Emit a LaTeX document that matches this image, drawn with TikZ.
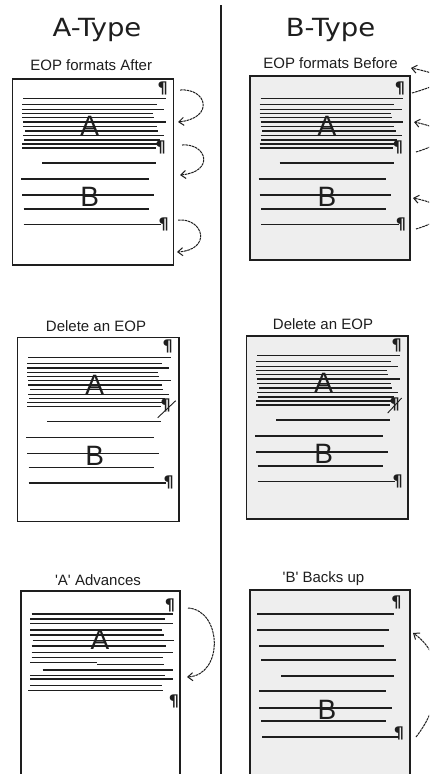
\documentclass[tikz,border=0pt]{standalone}
\usepackage{fontspec}
\usepackage{graphicx}
\setmainfont{Liberation Sans}
\newfontfamily\titlefam{DejaVu Sans}
\usetikzlibrary{arrows.meta}
\definecolor{pagegray}{RGB}{238,238,238}
\definecolor{ink}{RGB}{30,30,30}
\tikzset{
  pagebox/.style={draw=ink, line width=1.3pt},
  bpagebox/.style={pagebox, fill=pagegray},
  tline/.style={line width=1.5pt, draw=ink},
  pil/.style={font=\titlefam\bfseries\fontsize{16}{18}\selectfont, inner sep=0pt, text=ink},
  bigl/.style={font=\fontsize{28}{32}\selectfont, inner sep=0pt, text=ink},
  capt/.style={font=\fontsize{15}{18}\selectfont, anchor=base, inner sep=0pt, text=ink},
  ttl/.style={font=\titlefam\fontsize{25}{28}\selectfont, anchor=base, inner sep=0pt, text=ink},
  strike/.style={line width=0.9pt, draw=ink},
  jump/.style={line width=1pt, draw=ink, dash pattern=on 2.6pt off 0.7pt,
    -{Straight Barb[length=5pt,width=8pt,line width=1pt]}},
  divider/.style={line width=1.6pt, draw=ink},
}
% paragraph A + B contents of a page, relative to the page's top-left corner
\newcommand\paraAB[2]{%
  \foreach \yy/\xa/\xb in {19.7/10.6/153, 25.7/9.6/144, 30.3/9.6/151.6, 34.7/9.6/140.6,
      38.7/9.6/141.6, 43/10.6/153, 47.3/10.6/144, 52/12.3/145.6, 56.7/10.6/151.6,
      61/11.3/147.3, 65/9.6/144, 69/9.6/143.3}
    \draw[tline] (\xa,\yy) -- (\xb,\yy);
  \foreach \yy/\xa/\xb in {84/29.5/143.5, 100/8.5/136, 116/9.5/141, 130/11/136, 145.5/11/148.5}
    \draw[tline] (\xa,\yy) -- (\xb,\yy);
  \node[pil] (#1p1) at (150,9) {¶};
  \node[pil] (#1p2) at (148,68) {¶};
  \node[pil] (#1p3) at (151,145) {¶};
  \node[bigl] (#1A) at (77,47) {A};
  \node[bigl] (#1B) at (77,118) {B};
  #2%
}
\begin{document}
\begin{tikzpicture}[x=1pt,y=-1pt]
\clip (0,0) rectangle (429,774);
\fill[white] (0,0) rectangle (429,774);

% divider
\coordinate (dtop) at (221,5);
\coordinate (dbot) at (221,780);
\draw[divider] (dtop) -- (dbot);

% titles
\node[ttl] (ta) at (97,36.5) {\scalebox{1.1}[1]{A-Type}};
\node[ttl] (tb) at (330.5,36.5) {\scalebox{1.1}[1]{B-Type}};

% captions
\node[capt] (c1) at (91.2,70) {EOP formats After};
\node[capt] (c2) at (330.5,68) {EOP formats Before};
\node[capt] (c3) at (96,331) {Delete an EOP};
\node[capt] (c4) at (323,329) {Delete an EOP};
\node[capt] (c5) at (98,585) {\textquotesingle A\textquotesingle\ Advances};
\node[capt] (c6) at (323.5,582) {\textquotesingle B\textquotesingle\ Backs up};

% ---------- top-left page ----------
\draw[pagebox] (12.7,79) rectangle (173.3,265);
\begin{scope}[shift={(12.7,79)}]
  \paraAB{tl}{}
\end{scope}

% ---------- top-right page ----------
\draw[bpagebox] (250,76) rectangle (410,260);
\begin{scope}[shift={(250,79)}]
  \paraAB{tr}{}
\end{scope}

% ---------- middle-left page ----------
\draw[pagebox] (17.7,337.7) rectangle (179,521.7);
\begin{scope}[shift={(17.7,337.7)}]
  \paraAB{ml}{\draw[strike] (140,80) -- (158,63);}
\end{scope}

% ---------- middle-right page ----------
\draw[bpagebox] (246.7,336) rectangle (408,519);
\begin{scope}[shift={(246.7,336)}]
  \paraAB{mr}{\draw[strike] (141,77) -- (155,62);}
\end{scope}

% ---------- bottom-left page ----------
\draw[pagebox] (21,591) rectangle (180,800);
\foreach \yy/\xa/\xb in {614/31.7/173, 619/30/165, 623.3/30/173, 630/30/162, 635/30/164,
    640.7/32.7/174, 646/31.7/166, 652.3/31.7/173, 657.3/31.7/163, 670/42.7/173,
    675.7/30/165, 679/30/173, 685.7/30/162, 690.7/28/163}
  \draw[tline] (\xa,\yy) -- (\xb,\yy);
\draw[tline] (30,662.3) -- (97,662.3);
\draw[tline] (97,664.3) -- (164,664.3);
\node[pil] (blp1) at (170,605) {¶};
\node[pil] (blp2) at (174,701) {¶};
\node[bigl] (blA) at (100,640) {A};

% ---------- bottom-right page ----------
\draw[bpagebox] (250,590) rectangle (410,800);
\foreach \yy/\xa/\xb in {614/257/394, 630/257/389, 646/259/384, 660/261/396, 676/281/394,
    691/259/386, 708/259/392, 721/261/386, 737/262/399}
  \draw[tline] (\xa,\yy) -- (\xb,\yy);
\node[pil] (brp1) at (396.5,602.5) {¶};
\node[pil] (brp2) at (399,733) {¶};
\node[bigl] (brB) at (327,710) {B};

% ---------- A-type jump arrows ----------
\coordinate (a1s) at (180,90);  \coordinate (a1e) at (178,122);
\coordinate (a2s) at (182,145); \coordinate (a2e) at (180,175);
\coordinate (a3s) at (178,220); \coordinate (a3e) at (177,252);
\coordinate (a4s) at (188,608); \coordinate (a4e) at (187,677);
\draw[jump] (a1s) .. controls (207,88) and (215,118) .. (a1e);
\draw[jump] (a2s) .. controls (207,143) and (215,172) .. (a2e);
\draw[jump] (a3s) .. controls (204,218) and (212,250) .. (a3e);
\draw[jump] (a4s) .. controls (222,610) and (224,675) .. (a4e);

% ---------- B-type jump arrows (leave the picture on the right) ----------
\coordinate (b1s) at (412,93);  \coordinate (b1e) at (411,68);
\coordinate (b2s) at (416,152); \coordinate (b2e) at (414,122);
\coordinate (b3s) at (416,229); \coordinate (b3e) at (413,198);
\coordinate (b4s) at (416,737); \coordinate (b4e) at (413,633);
\draw[jump] (b1s) .. controls (450,82) and (450,76) .. (b1e);
\draw[jump] (b2s) .. controls (452,141) and (452,130) .. (b2e);
\draw[jump] (b3s) .. controls (452,218) and (452,206) .. (b3e);
\draw[jump] (b4s) .. controls (445,700) and (445,655) .. (b4e);
\end{tikzpicture}
\end{document}
